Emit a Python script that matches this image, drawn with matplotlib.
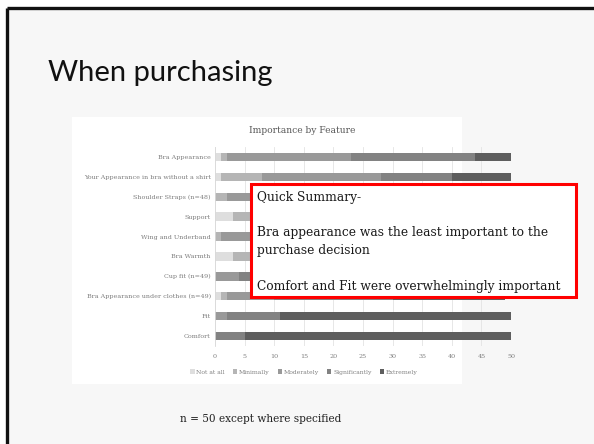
import numpy as np
import matplotlib
matplotlib.use("Agg")
import matplotlib.pyplot as plt
from matplotlib.patches import Rectangle

# data (counts of respondents per rating)
features = ["Bra Appearance", "Your Appearance in bra without a shirt",
            "Shoulder Straps (n=48)", "Support", "Wing and Underband",
            "Bra Warmth", "Cup fit (n=49)", "Bra Appearance under clothes (n=49)",
            "Fit", "Comfort"]
levels = ["Not at all", "Minimally", "Moderately", "Significantly", "Extremely"]
not_at_all    = [1, 1, 0, 3, 0, 3, 0, 1, 0, 0]
minimally     = [1, 7, 2, 4, 1, 4, 0, 1, 0, 0]
moderately    = [21, 20, 14, 15, 12, 18, 4, 8, 2, 0]
significantly = [21, 12, 18, 16, 20, 15, 12, 20, 9, 5]
extremely     = [6, 10, 14, 12, 17, 10, 33, 19, 39, 45]
ticks = [0, 5, 10, 15, 20, 25, 30, 35, 40, 45, 50]

colors = ["#dedede", "#b5b5b5", "#999999", "#828282", "#5e5e5e"]
W, H = 594, 444
SERIF = "DejaVu Serif"

fig = plt.figure(figsize=(W/100, H/100), dpi=100, facecolor="white")

# slide background
bg = fig.add_axes([0, 0, 1, 1], zorder=0)
bg.set_xlim(0, W); bg.set_ylim(H, 0); bg.axis("off")
bg.add_patch(Rectangle((7, 8), W, H, facecolor="#f7f7f7", edgecolor="none"))
bg.plot([7, 7], [8, H], color="#111111", lw=2.4, solid_capstyle="butt")
bg.plot([7, W], [8, 8], color="#111111", lw=2.4, solid_capstyle="butt")
bg.add_patch(Rectangle((72, 117), 390, 267, facecolor="white", edgecolor="none"))
bg.text(48, 73, "When purchasing", fontsize=21, family="Lato", va="center", ha="left", color="#111111")
bg.text(302, 130, "Importance by Feature", fontsize=6.6, family=SERIF,
        ha="center", va="center", color="#595959")
bg.text(261, 419, "n = 50 except where specified", fontsize=7.6, family=SERIF,
        ha="center", va="center", color="#222222")

# chart
ax = fig.add_axes([215/W, 1-346/H, 296/W, 199/H], zorder=1)
ax.patch.set_alpha(0)
series = [not_at_all, minimally, moderately, significantly, extremely]
y = np.arange(len(features))
left = np.zeros(len(features))
for lab, vals, c in zip(levels, series, colors):
    ax.barh(y, vals, left=left, height=0.42, color=c, label=lab, zorder=2)
    left += np.array(vals)
ax.set_ylim(len(features)-0.5, -0.5)
ax.set_xlim(0, 50)
ax.set_xticks(ticks)
ax.set_yticks(y)
ax.set_yticklabels(features)
ax.xaxis.grid(True, color="#e3e3e3", lw=0.6, zorder=0)
for s in ["top", "right", "bottom"]:
    ax.spines[s].set_visible(False)
ax.spines["left"].set_color("#d9d9d9")
ax.spines["left"].set_linewidth(0.6)
ax.tick_params(axis="x", length=0, labelsize=4.6, labelcolor="#7f7f7f", pad=6)
ax.tick_params(axis="y", length=0, labelsize=4.6, labelcolor="#7f7f7f", pad=3)
for t in ax.get_xticklabels() + ax.get_yticklabels():
    t.set_family(SERIF)
leg = ax.legend(loc="center", bbox_to_anchor=(304/W, 1-372/H), bbox_transform=fig.transFigure,
                ncol=5, frameon=False, handlelength=0.7, handleheight=0.7,
                handletextpad=0.3, columnspacing=1.3, prop={"family": SERIF, "size": 4.4})
for t in leg.get_texts():
    t.set_color("#7f7f7f")

# summary box on top
top = fig.add_axes([0, 0, 1, 1], zorder=5)
top.set_xlim(0, W); top.set_ylim(H, 0); top.axis("off")
top.add_patch(Rectangle((251, 184), 325, 113, facecolor="white", edgecolor="#ff0000", lw=2.2))
tx = dict(fontsize=8.8, family=SERIF, ha="left", va="center", color="#1a1a1a")
top.text(257, 197, "Quick Summary-", **tx)
top.text(257, 232, "Bra appearance was the least important to the", **tx)
top.text(257, 250, "purchase decision", **tx)
top.text(257, 286, "Comfort and Fit were overwhelmingly important", **tx)

fig.savefig("out.png", dpi=100, facecolor="white")
